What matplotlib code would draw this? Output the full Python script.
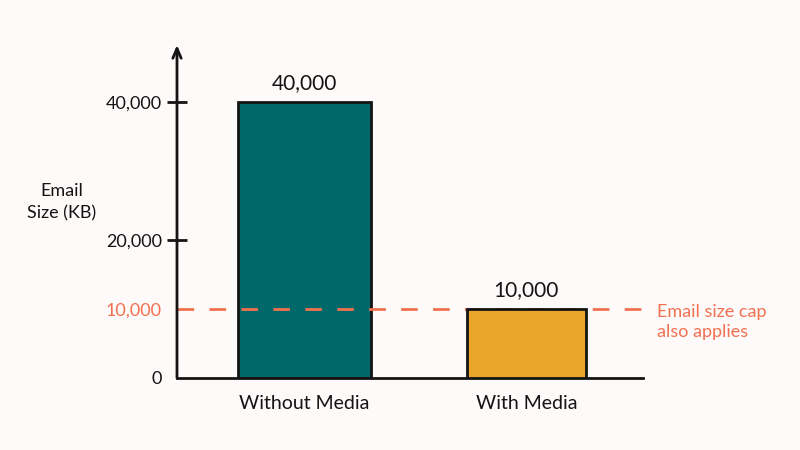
import matplotlib
matplotlib.use("Agg")
import matplotlib.pyplot as plt

categories = ["Without Media", "With Media"]
values = [40000, 10000]
value_labels = ["40,000", "10,000"]
yticks = [0, 10000, 20000, 40000]
ytick_labels = ["0", "10,000", "20,000", "40,000"]
cap_value = 10000
cap_label = "Email size cap\nalso applies"
ylabel = "Email\nSize (KB)"

bg = "#FDFAF9"
bar_colors = ["#01686A", "#EAA62B"]
bar_widths = [0.6, 0.54]
cap_color = "#F2704F"
ink = "#141414"

plt.rcParams["font.family"] = ["Lato", "DejaVu Sans"]

fig = plt.figure(figsize=(8, 4.5), dpi=100, facecolor=bg)
ax = fig.add_axes([177/800, 1-378/450, (643-177)/800, (378-45)/450])
ax.set_facecolor(bg)
ax.set_xlim(-0.574, 1.525)
ax.set_ylim(0, 48300)

x = list(range(len(categories)))
bars = ax.bar(x, values, width=bar_widths, color=bar_colors,
              edgecolor=ink, linewidth=2)
bars[0].set_zorder(1)
bars[1].set_zorder(3)
ax.axhline(cap_value, color=cap_color, lw=2, dashes=(6, 5.5), zorder=2,
           xmin=0, xmax=1.005, clip_on=False)

for xi, v, lab in zip(x, values, value_labels):
    ax.text(xi, v + 1300, lab, ha="center", va="bottom", fontsize=15, color=ink)

ax.text(1.0 + 0.03, 0.168, cap_label, transform=ax.transAxes, ha="left",
        va="center", fontsize=13, color=cap_color, linespacing=1.3)

for s in ["top", "right", "left"]:
    ax.spines[s].set_visible(False)
ax.spines["bottom"].set_linewidth(2)
ax.spines["bottom"].set_color(ink)

ax.annotate("", xy=(0, 1), xytext=(0, 0), xycoords="axes fraction",
            arrowprops=dict(arrowstyle="->,head_length=0.7,head_width=0.3",
                            lw=2, color=ink, shrinkA=0, shrinkB=0))

ax.set_yticks(yticks)
ax.set_yticklabels(ytick_labels, fontsize=13, color=ink)
ax.tick_params(axis="y", direction="inout", length=14, width=2, color=ink, pad=4)
ticks = ax.yaxis.get_major_ticks()
for i, v in enumerate(yticks):
    if v == 0 or v == cap_value:
        ticks[i].tick1line.set_visible(False)
    if v == cap_value:
        ticks[i].label1.set_color(cap_color)

ax.set_xticks(x)
ax.set_xticklabels(categories, fontsize=14, color=ink)
ax.tick_params(axis="x", length=0, pad=12)

fig.text(62/800, 1-202/450, ylabel, ha="center", va="center", fontsize=13,
         color=ink, linespacing=1.5)

fig.savefig("out.png", dpi=100, facecolor=bg)
